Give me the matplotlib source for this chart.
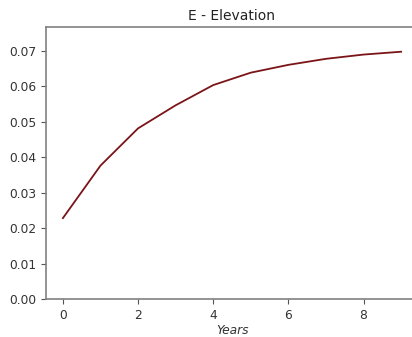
import matplotlib
matplotlib.use("Agg")
import matplotlib.pyplot as plt

years = [0, 1, 2, 3, 4, 5, 6, 7, 8, 9]
elevation = [0.0228, 0.0376, 0.0481, 0.0546, 0.0603, 0.0638, 0.0660, 0.0677, 0.0689, 0.0697]

fig = plt.figure(figsize=(4.12, 3.37), dpi=100)
ax = fig.add_axes([46 / 412, 38 / 337, 372 / 412, 272 / 337])

ax.plot(years, elevation, color="#7a1418", linewidth=1.3)
ax.set_xlim(-0.45, 9.45)
ax.set_ylim(0, max(elevation) * 1.1)
ax.set_xticks([0, 2, 4, 6, 8])
ax.set_yticks([0.0, 0.01, 0.02, 0.03, 0.04, 0.05, 0.06, 0.07])
ax.set_yticklabels([f"{v:.2f}" for v in ax.get_yticks()])

for side in ax.spines.values():
    side.set_color("#808080")
    side.set_linewidth(1.2)
ax.tick_params(colors="#555555", labelsize=8.8, length=3.5)
ax.tick_params(axis="both", labelcolor="#333333")

ax.set_title("E - Elevation", fontsize=10, color="#222222", pad=5)
ax.set_xlabel("Years", fontsize=8.8, style="italic", color="#333333", labelpad=2)

fig.savefig("out.png", dpi=100)
